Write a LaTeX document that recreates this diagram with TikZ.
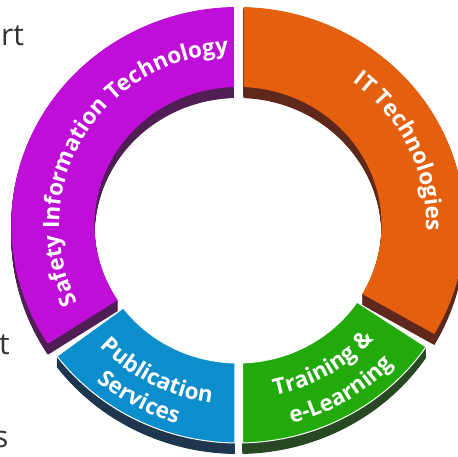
\documentclass[tikz,border=0pt]{standalone}
\usepackage{fontspec}
\setmainfont{Open Sans}
\usetikzlibrary{decorations.text}
\definecolor{cpurple}{RGB}{190, 14, 216}
\definecolor{cpurpledark}{RGB}{78, 30, 84}
\definecolor{corange}{RGB}{228, 96, 14}
\definecolor{corangedark}{RGB}{96, 40, 28}
\definecolor{cblue}{RGB}{12, 141, 204}
\definecolor{cbluedark}{RGB}{30, 54, 78}
\definecolor{cgreen}{RGB}{34, 170, 10}
\definecolor{cgreendark}{RGB}{40, 72, 36}
\definecolor{ctext}{RGB}{51, 51, 51}

% ring piece: from angle #1 to #2, half gaps #3 and #4
\newcommand{\ringseg}[4]{({#1+asin(#3/218)}:218) arc[start angle={#1+asin(#3/218)}, end angle={#2-asin(#4/218)}, radius=218] -- ({#2-asin(#4/138)}:138) arc[start angle={#2-asin(#4/138)}, end angle={#1+asin(#3/138)}, radius=138] -- cycle}
\newcommand{\segfont}{\fontsize{22.5}{22.5}\selectfont\bfseries}

\begin{document}
\begin{tikzpicture}[x=1pt, y=1pt,
  lefttext/.style={anchor=base west, inner sep=0pt, text=ctext, font=\fontsize{30}{30}\selectfont},
  segtext/.style={decorate, decoration={text along path, text align=center, text={|\segfont\color{white}|#1}}}]
\useasboundingbox (0,0) rectangle (458,457);
\node[lefttext] (rt) at (1,411) {rt};
\node[lefttext] (t) at (-1,102) {t};
\node[lefttext] (s) at (-6,9) {s};
\begin{scope}[shift={(238,232)}, xscale=1.04]
% purple
\foreach \d in {0.5,1,...,11} \fill[cpurpledark, yshift=-\d pt] \ringseg{90}{213}{4}{0};
\fill[cpurple] \ringseg{90}{213}{4}{0};
% orange
\foreach \d in {0.5,1,...,11} \fill[corangedark, yshift=-\d pt] \ringseg{-30}{90}{0}{5.5};
\fill[corange] \ringseg{-30}{90}{0}{5.5};
% blue
\foreach \d in {0.5,1,...,11} \fill[cbluedark, yshift=-\d pt] \ringseg{217}{270}{0}{3};
\fill[cblue, draw=white, line width=1pt] \ringseg{217}{270}{0}{3};
% green
\foreach \d in {0.5,1,...,11} \fill[cgreendark, yshift=-\d pt] \ringseg{270}{326}{4.5}{0};
\fill[cgreen, draw=white, line width=1pt] \ringseg{270}{326}{4.5}{0};
% labels
\path[segtext={Safety Information Technology}] (220:172) arc[start angle=220, end angle=80, radius=172];
\path[segtext={IT Technologies}] (75:181) arc[start angle=75, end angle=-25, radius=181];
\path[segtext={Publication}] (207:180) arc[start angle=207, end angle=277, radius=180];
\path[segtext={Services}] (206:207) arc[start angle=206, end angle=276, radius=207];
\path[segtext={Training {\&}}] (265:174) arc[start angle=265, end angle=336, radius=174];
\path[segtext={e-Learning}] (266:205) arc[start angle=266, end angle=336, radius=205];
\end{scope}
\end{tikzpicture}
\end{document}
